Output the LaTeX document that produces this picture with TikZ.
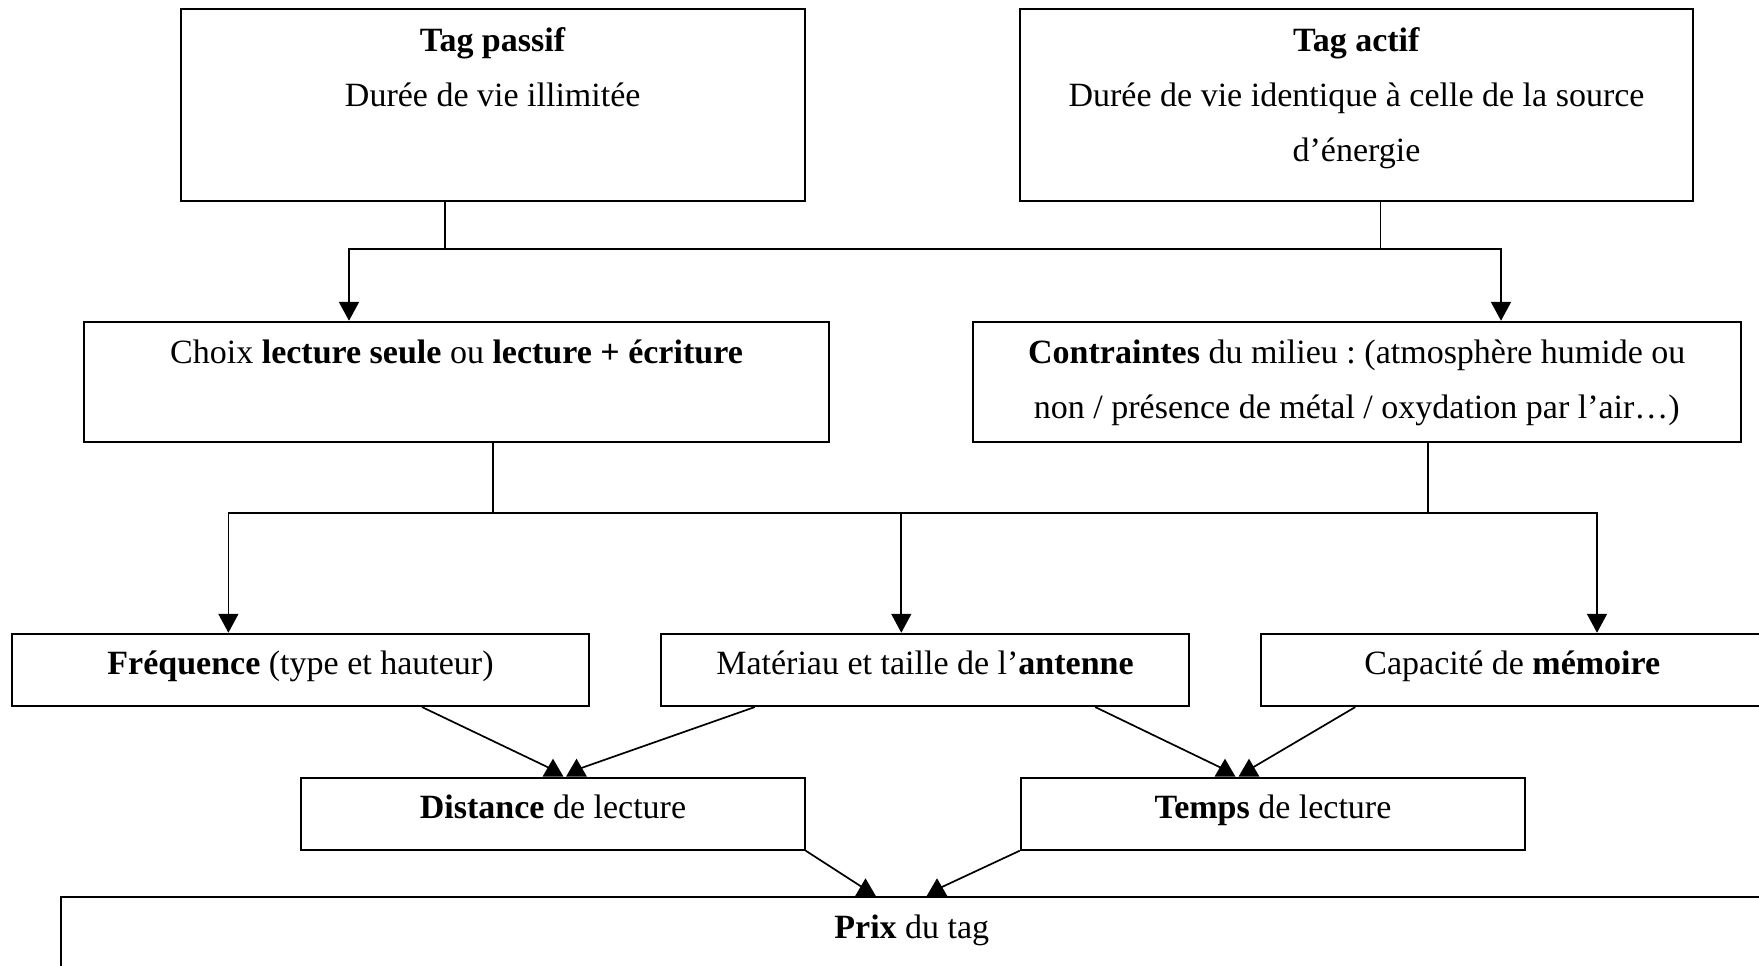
\documentclass[tikz,border=0pt]{standalone}
\usepackage{fontspec}
\setmainfont{Liberation Serif}
\usetikzlibrary{arrows.meta}
\frenchspacing
\tikzset{
  box/.style={draw, line width=2pt, inner sep=0pt},
  lbl/.style={anchor=base, inner sep=0pt, font=\fontsize{34}{40}\selectfont},
  conn/.style={line width=1.7pt},
  arr/.style={conn, -{Triangle[length=19pt,width=20pt]}},
  tri/.style={fill=black}
}
\begin{document}
\begin{tikzpicture}[x=1pt,y=-1pt]
\useasboundingbox (0,0) rectangle (1759,966);
\clip (0,0) rectangle (1759,966);

% boxes
\node[box, minimum width=624pt, minimum height=192pt] (passif) at (492.7,105.3) {};
\node[box, minimum width=672.7pt, minimum height=192pt] (actif) at (1356.5,105.3) {};
\node[box, minimum width=744.6pt, minimum height=120.3pt] (choix) at (456.5,381.9) {};
\node[box, minimum width=768.5pt, minimum height=120.3pt] (contr) at (1356.8,381.9) {};
\node[box, minimum width=576.4pt, minimum height=72.3pt] (freq) at (300.5,669.9) {};
\node[box, minimum width=528pt, minimum height=72.3pt] (mat) at (925,669.9) {};
\node[box, minimum width=503.4pt, minimum height=72.3pt] (cap) at (1512.3,669.9) {};
\node[box, minimum width=503.4pt, minimum height=72pt] (dist) at (553,813.7) {};
\node[box, minimum width=504.5pt, minimum height=72pt] (temps) at (1273,813.7) {};
\node[box, minimum width=1702.4pt, minimum height=140pt] (prix) at (911.8,967.3) {};

% texts
\node[lbl] (passifT) at (492.7,51.5) {\textbf{Tag passif}};
\node[lbl] (passifL) at (492.7,106.5) {Durée de vie illimitée};
\node[lbl] (actifT) at (1356.5,51.5) {\textbf{Tag actif}};
\node[lbl] (actifL1) at (1356.5,106.5) {Durée de vie identique à celle de la source};
\node[lbl] (actifL2) at (1356.5,161.5) {d’énergie};
\node[lbl] (choixT) at (456.5,363.8) {Choix \textbf{lecture seule} ou \textbf{lecture + écriture}};
\node[lbl] (contrL1) at (1356.8,363.8) {\textbf{Contraintes} du milieu : (atmosphère humide ou};
\node[lbl] (contrL2) at (1356.8,418.2) {non / présence de métal / oxydation par l’air…)};
\node[lbl] (freqT) at (300.5,674.8) {\textbf{Fréquence} (type et hauteur)};
\node[lbl] (matT) at (925,674.8) {Matériau et taille de l’\textbf{antenne}};
\node[lbl] (capT) at (1512.3,674.8) {Capacité de \textbf{mémoire}};
\node[lbl] (distT) at (553,818.8) {\textbf{Distance} de lecture};
\node[lbl] (tempsT) at (1273,818.8) {\textbf{Temps} de lecture};
\node[lbl] (prixT) at (911.8,938.8) {\textbf{Prix} du tag};

% first level junctions
\coordinate (h1) at (445,249.3);
\coordinate (h2) at (1380.6,249.3);
\draw[conn] (h1 |- passif.south) -- (h1);
\draw[conn] (h2 |- actif.south) -- (h2);
\draw[conn, line width=2.2pt] (h1) -- (h2);
\draw[arr, line width=2.2pt] (h1) -| ([xshift=-107.5pt]choix.north);
\draw[arr, line width=2.2pt] (h2) -| ([xshift=144.2pt]contr.north);

% second level junctions
\coordinate (h3) at (492.7,513.3);
\coordinate (h4) at (1428.2,513.3);
\draw[conn] (h3 |- choix.south) -- (h3);
\draw[conn] (h4 |- contr.south) -- (h4);
\draw[conn] (h3) -- (h4);
\draw[arr] (h3) -| ([xshift=-72.1pt]freq.north);
\draw[arr] (h4) -| ([xshift=84.7pt]cap.north);
\draw[arr] ([xshift=-23.7pt]mat.north |- h3) -- ([xshift=-23.7pt]mat.north);

% arrow heads (upright triangles) on box tops
\coordinate (t1) at ([xshift=0pt]dist.north);
\coordinate (t2) at ([xshift=23.5pt]dist.north);
\coordinate (t3) at ([xshift=-48pt]temps.north);
\coordinate (t4) at ([xshift=-24pt]temps.north);
\coordinate (t5) at ([xshift=-46.3pt]prix.north);
\coordinate (t6) at ([xshift=25.2pt]prix.north);

\draw[conn] ([xshift=121.5pt]freq.south) -- ([yshift=7pt]t1);
\draw[conn] ([xshift=-170.2pt]mat.south) -- ([yshift=7pt]t2);
\draw[conn] ([xshift=170.2pt]mat.south) -- ([yshift=7pt]t3);
\draw[conn] ([xshift=-157pt]cap.south) -- ([yshift=7pt]t4);
\draw[conn] (dist.south east) -- ([yshift=7pt]t5);
\draw[conn] (temps.south west) -- ([yshift=7pt]t6);

\foreach \t in {t1,t2,t3,t4,t5,t6}
  \fill[tri] ([xshift=-10.5pt]\t) -- ([yshift=18pt]\t) -- ([xshift=10.5pt]\t) -- cycle;
\end{tikzpicture}
\end{document}
